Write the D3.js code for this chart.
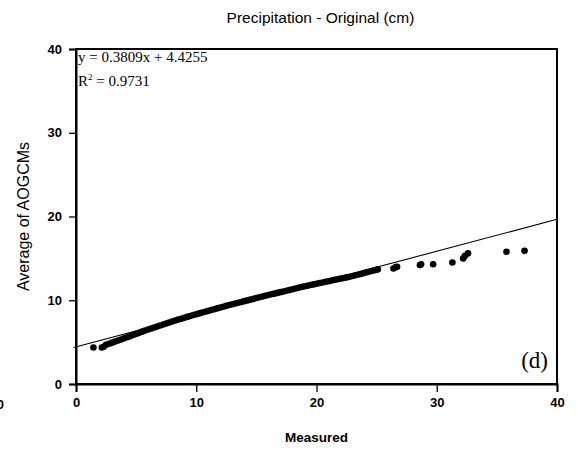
<!DOCTYPE html>
<html><head><meta charset="utf-8">
<script src="https://cdn.jsdelivr.net/npm/d3@7"></script>
<style>body{margin:0;background:#fff}svg{display:block}</style>
</head><body><svg id="c" width="578" height="453"></svg>
<script>
const title = "Precipitation - Original (cm)";
const xLabel = "Measured";
const yLabel = "Average of AOGCMs";
const xTicks = [0, 10, 20, 30, 40];
const yTicks = [0, 10, 20, 30, 40];
const slope = 0.3809, intercept = 4.4255, r2 = 0.9731;
const panelTag = "(d)";
// measured values (x) and model averages (y)
const measured = [1.45,2.15,2.3,2.5,2.75,3.0,3.25,3.5,3.75,4.0,4.25,4.5,4.75,5.0,5.25,5.5,5.75,6.0,6.25,6.5,6.75,7.0,7.25,7.5,7.75,8.0,8.25,8.5,8.75,9.0,9.25,9.5,9.75,10.0,10.25,10.5,10.75,11.0,11.25,11.5,11.75,12.0,12.25,12.5,12.75,13.0,13.25,13.5,13.75,14.0,14.25,14.5,14.75,15.0,15.25,15.5,15.75,16.0,16.25,16.5,16.75,17.0,17.25,17.5,17.75,18.0,18.25,18.5,18.75,19.0,19.25,19.5,19.75,20.0,20.25,20.5,20.75,21.0,21.25,21.5,21.75,22.0,22.25,22.5,22.75,23.0,23.25,23.5,23.75,24.0,24.25,24.5,24.75,25.0,25.1,26.4,26.6,26.7,28.6,28.7,29.7,31.3,32.2,32.35,32.6,35.8,37.3];
const modelAvg = [4.35,4.35,4.45,4.68,4.81,4.94,5.06,5.19,5.32,5.45,5.58,5.71,5.85,5.98,6.11,6.25,6.38,6.51,6.63,6.75,6.87,6.99,7.11,7.23,7.35,7.47,7.58,7.69,7.80,7.90,8.01,8.12,8.23,8.33,8.43,8.53,8.63,8.73,8.83,8.93,9.03,9.13,9.23,9.33,9.43,9.53,9.62,9.71,9.80,9.89,9.98,10.07,10.17,10.26,10.35,10.44,10.53,10.62,10.71,10.79,10.88,10.97,11.05,11.14,11.23,11.32,11.40,11.49,11.58,11.66,11.74,11.82,11.89,11.97,12.05,12.12,12.20,12.27,12.35,12.43,12.50,12.58,12.66,12.73,12.81,12.89,12.98,13.08,13.17,13.27,13.36,13.46,13.55,13.65,13.7,13.8,13.95,14.0,14.2,14.3,14.3,14.5,15.0,15.3,15.6,15.8,15.9];

const svg = d3.select("#c");
const L = 76, R = 557, T = 49, B = 384;
const x = d3.scaleLinear().domain([0, 40]).range([L, R]);
const y = d3.scaleLinear().domain([0, 40]).range([B, T]);
const sans = "Liberation Sans, Arial, sans-serif", serif = "Liberation Serif, Times New Roman, serif";

svg.append("text").attr("x", (L + R) / 2 + 4).attr("y", 23).attr("text-anchor", "middle")
  .attr("font-family", sans).attr("font-size", 15.5).text(title);

// frame
svg.append("rect").attr("x", L).attr("y", T).attr("width", R - L).attr("height", B - T)
  .attr("fill", "none").attr("stroke", "#000").attr("stroke-width", 2);

const xa = svg.append("g").attr("transform", `translate(0,${B})`)
  .call(d3.axisBottom(x).tickValues(xTicks).tickSize(8).tickPadding(6).tickFormat(d3.format("d")));
const ya = svg.append("g").attr("transform", `translate(${L},0)`)
  .call(d3.axisLeft(y).tickValues(yTicks).tickSize(7).tickPadding(7).tickFormat(d3.format("d")));
[xa, ya].forEach(g => {
  g.select(".domain").attr("stroke-width", 2);
  g.selectAll(".tick line").attr("stroke-width", 1.3);
  g.selectAll("text").attr("font-family", sans)
    .attr("font-size", 13).attr("font-weight", "bold").attr("fill", "#000");
});

// stray label from neighbouring panel
svg.append("text").attr("x", 4).attr("y", 409).attr("text-anchor", "end")
  .attr("font-family", sans).attr("font-size", 13)
  .attr("font-weight", "bold").text("40");

svg.append("text").attr("x", (L + R) / 2).attr("y", 442).attr("text-anchor", "middle")
  .attr("font-family", sans).attr("font-size", 13.5)
  .attr("font-weight", "bold").text(xLabel);
svg.append("text").attr("transform", `translate(29,${(T + B) / 2}) rotate(-90)`)
  .attr("text-anchor", "middle").attr("font-family", sans)
  .attr("font-size", 16).text(yLabel);

// regression line
svg.append("line").attr("x1", x(-0.2)).attr("y1", y(intercept + slope * -0.2))
  .attr("x2", x(40)).attr("y2", y(intercept + slope * 40))
  .attr("stroke", "#000").attr("stroke-width", 1.1);

svg.append("g").selectAll("circle").data(measured).join("circle")
  .attr("cx", d => x(d)).attr("cy", (d, i) => y(modelAvg[i])).attr("r", 3.3).attr("fill", "#000");

svg.append("text").attr("x", 78).attr("y", 62).attr("font-family", serif)
  .attr("font-size", 15).text(`y = ${slope}x + ${intercept}`);
const r2t = svg.append("text").attr("x", 78).attr("y", 86).attr("font-family", serif)
  .attr("font-size", 15);
r2t.append("tspan").text("R");
r2t.append("tspan").attr("dy", -6).attr("font-size", 9).text("2");
r2t.append("tspan").attr("dy", 6).text(` = ${r2}`);

svg.append("text").attr("x", 548).attr("y", 368).attr("text-anchor", "end")
  .attr("font-family", serif).attr("font-size", 23).text(panelTag);
</script></body></html>
